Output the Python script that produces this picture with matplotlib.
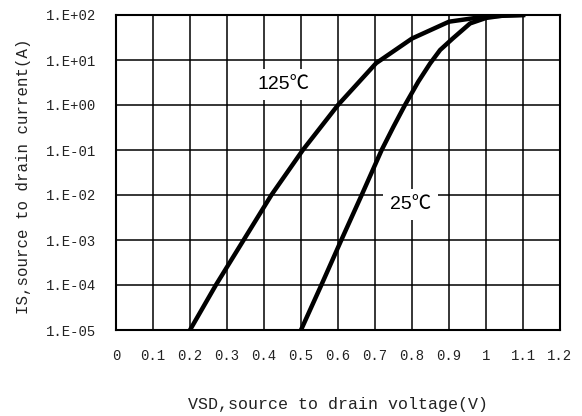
import matplotlib
matplotlib.use('Agg')
import matplotlib.pyplot as plt
from matplotlib.ticker import FixedLocator, NullLocator

# 125 C curve
vsd_125 = [0.20, 0.27, 0.345, 0.42, 0.505, 0.60, 0.703, 0.80, 0.90, 1.00, 1.10]
is_125 = [1e-5, 1e-4, 1e-3, 1e-2, 1e-1, 1.0, 8.5, 30, 71, 93, 100]

# 25 C curve
vsd_25 = [0.50, 0.555, 0.609, 0.664, 0.718, 0.75, 0.781, 0.817, 0.849, 0.876, 0.91, 0.957, 1.00, 1.05, 1.10]
is_25 = [1e-5, 1e-4, 1e-3, 1e-2, 1e-1, 0.33, 1.0, 3.3, 8.4, 16.7, 30, 65, 86, 98, 100]

x_ticks = [0, 0.1, 0.2, 0.3, 0.4, 0.5, 0.6, 0.7, 0.8, 0.9, 1.0, 1.1, 1.2]
x_labels = ['0', '0.1', '0.2', '0.3', '0.4', '0.5', '0.6', '0.7', '0.8', '0.9', '1', '1.1', '1.2']
y_ticks = [1e-5, 1e-4, 1e-3, 1e-2, 1e-1, 1e0, 1e1, 1e2]
y_labels = ['1.E-05', '1.E-04', '1.E-03', '1.E-02', '1.E-01', '1.E+00', '1.E+01', '1.E+02']

mono = 'Liberation Mono'

fig = plt.figure(figsize=(5.82, 4.16), dpi=100)
ax = fig.add_axes([116 / 582, 1 - 330 / 416, 444 / 582, 315 / 416])

ax.plot(vsd_125, is_125, color='black', lw=3.2, solid_joinstyle='round', zorder=3)
ax.plot(vsd_25, is_25, color='black', lw=3.2, solid_joinstyle='round', zorder=3)

ax.set_yscale('log')
ax.set_xlim(0, 1.2)
ax.set_ylim(1e-5, 1e2)

ax.xaxis.set_major_locator(FixedLocator(x_ticks))
ax.set_xticklabels(x_labels, family=mono, fontsize=10)
ax.yaxis.set_major_locator(FixedLocator(y_ticks))
ax.yaxis.set_minor_locator(NullLocator())
ax.set_yticklabels(y_labels, family=mono, fontsize=10)
ax.tick_params(axis='both', length=0, colors='#222222')
ax.tick_params(axis='y', pad=14)
ax.tick_params(axis='x', pad=14)

ax.grid(True, which='major', color='black', lw=1.1)
ax.set_axisbelow(True)
for s in ax.spines.values():
    s.set_linewidth(1.5)

ax.set_xlabel('VSD,source to drain voltage(V)', family=mono, fontsize=12, color='#222222')
ax.xaxis.set_label_coords(0.5, -0.238)
ax.xaxis.label.set_va('center')
ax.set_ylabel('IS,source to drain current(A)', family=mono, fontsize=11.3, color='#222222')
ax.yaxis.set_label_coords(-0.209, 0.489)
ax.yaxis.label.set_va('center')

# temperature labels on white boxes
box = dict(boxstyle='square,pad=0.35', facecolor='white', edgecolor='none')
ax.text(0.454, 2.86, '125℃', family=['Liberation Sans', 'Noto Sans CJK SC'], fontsize=14,
        ha='center', va='center', bbox=box, zorder=4)
ax.text(0.795, 6.15e-3, '25℃', family=['Liberation Sans', 'Noto Sans CJK SC'], fontsize=14,
        ha='center', va='center', bbox=box, zorder=4)

fig.savefig('out.png', dpi=100)
